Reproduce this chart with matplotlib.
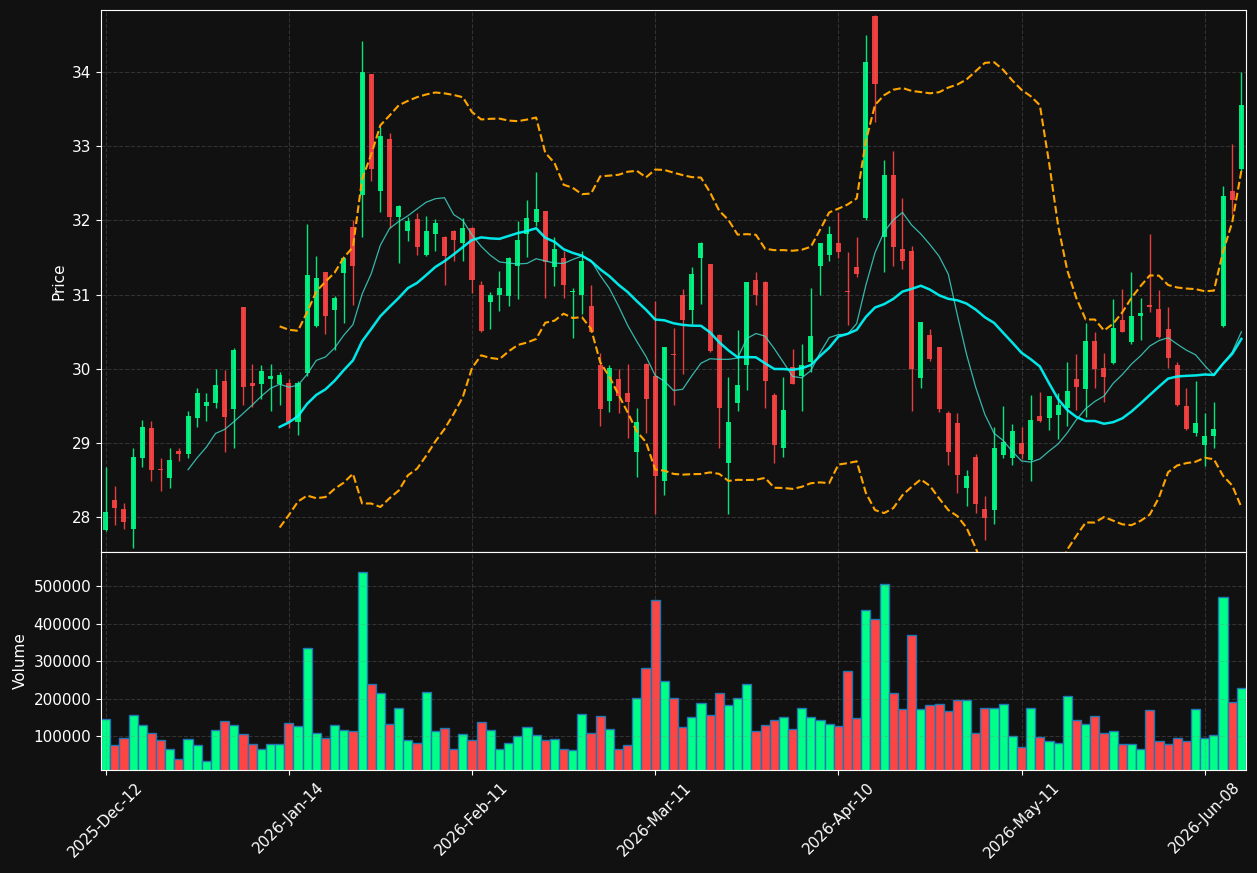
import numpy as np
import pandas as pd
import matplotlib
matplotlib.use('Agg')
import matplotlib.pyplot as plt

plt.rcParams['font.size'] = 11

# OHLC
opens = [27.83, 28.23, 28.11, 27.85, 28.80, 29.20, 28.65, 28.53, 28.90, 28.85,
         29.34, 29.50, 29.54, 29.84, 29.46, 30.83, 29.81, 29.80, 29.87, 29.80,
         29.81, 29.29, 29.95, 30.58, 31.30, 30.79, 31.29, 31.91, 32.34, 33.97,
         32.39, 33.10, 32.05, 31.86, 32.02, 31.53, 31.82, 31.78, 31.86, 31.70,
         31.90, 31.13, 30.90, 30.99, 30.98, 31.39, 31.82, 31.98, 32.12, 31.37,
         31.49, 31.03, 30.99, 30.84, 30.05, 29.57, 29.86, 29.68, 28.88, 30.06,
         29.90, 28.49, 30.20, 31.00, 30.79, 31.49, 31.41, 30.46, 28.73, 29.54,
         30.05, 31.20, 31.17, 29.65, 28.94, 30.02, 29.91, 30.09, 31.39, 31.53,
         31.70, 31.04, 31.37, 32.03, 34.75, 31.78, 32.61, 31.61, 31.58, 29.88,
         30.46, 30.30, 29.40, 29.27, 28.39, 28.81, 28.12, 28.10, 28.84, 28.80,
         29.00, 28.77, 29.36, 29.34, 29.38, 29.47, 29.86, 29.73, 30.38, 30.01,
         30.08, 30.66, 30.36, 30.71, 30.86, 30.80, 30.54, 30.05, 29.50, 29.13,
         28.98, 29.09, 30.58, 32.40, 32.69]
highs = [28.68, 28.42, 28.20, 28.93, 29.31, 29.30, 28.80, 28.94, 28.94, 29.43,
         29.74, 29.68, 30.00, 29.98, 30.28, 30.83, 30.06, 30.05, 30.06, 29.96,
         29.86, 29.83, 31.95, 31.52, 31.31, 30.98, 31.50, 32.00, 34.41, 33.97,
         33.26, 33.18, 32.20, 32.05, 32.10, 32.06, 32.02, 31.79, 31.87, 32.03,
         31.91, 31.18, 31.04, 31.32, 31.50, 31.99, 32.27, 32.65, 32.12, 31.77,
         31.58, 31.09, 31.58, 31.13, 30.21, 30.05, 30.00, 30.06, 29.47, 30.08,
         30.91, 30.30, 30.55, 31.07, 31.37, 31.71, 31.41, 30.47, 29.89, 30.52,
         31.17, 31.30, 31.18, 29.68, 29.89, 30.27, 30.34, 31.09, 31.70, 31.92,
         32.11, 31.57, 31.77, 34.50, 34.76, 32.81, 32.93, 32.30, 31.65, 30.63,
         30.54, 30.30, 29.43, 29.40, 28.64, 28.85, 28.29, 29.22, 29.50, 29.26,
         29.22, 29.65, 29.69, 29.63, 29.67, 30.09, 30.20, 30.62, 30.50, 30.21,
         30.94, 31.07, 31.30, 30.96, 31.82, 31.06, 30.83, 30.09, 29.74, 29.84,
         29.40, 29.56, 32.46, 33.02, 34.00]
lows = [27.82, 27.90, 27.84, 27.59, 28.68, 28.49, 28.36, 28.39, 28.76, 28.80,
        29.22, 29.30, 29.47, 28.88, 28.93, 29.52, 29.48, 29.60, 29.43, 29.51,
        29.20, 29.11, 29.91, 30.57, 30.47, 30.25, 30.62, 30.86, 31.78, 32.53,
        32.11, 31.89, 31.42, 31.72, 31.53, 31.52, 31.58, 31.13, 31.45, 31.45,
        31.02, 30.50, 30.54, 30.78, 30.84, 30.94, 31.50, 31.92, 30.96, 31.12,
        30.96, 30.42, 30.74, 30.49, 29.23, 29.42, 29.40, 29.07, 28.54, 29.13,
        28.04, 28.30, 29.51, 29.93, 30.60, 30.87, 30.23, 28.94, 28.04, 29.43,
        29.72, 30.86, 29.47, 28.73, 28.81, 29.79, 29.43, 29.96, 30.99, 31.45,
        31.49, 30.59, 31.24, 32.01, 33.32, 31.30, 31.38, 31.34, 29.43, 29.74,
        30.10, 29.42, 28.70, 28.33, 28.16, 28.06, 27.70, 27.91, 28.80, 28.70,
        28.78, 28.49, 29.28, 29.18, 29.05, 29.23, 29.44, 29.35, 29.74, 29.56,
        30.07, 30.49, 30.34, 30.39, 30.76, 30.42, 30.01, 29.50, 29.18, 29.10,
        28.69, 28.94, 30.57, 32.08, 32.66]
closes = [28.07, 28.13, 27.94, 28.81, 29.22, 28.64, 28.64, 28.77, 28.85, 29.36,
          29.68, 29.56, 29.78, 29.35, 30.25, 29.75, 29.77, 29.97, 29.90, 29.92,
          29.29, 29.81, 31.26, 31.22, 30.71, 30.96, 31.49, 31.39, 34.00, 32.69,
          33.13, 32.05, 32.19, 31.99, 31.64, 31.86, 31.96, 31.52, 31.73, 31.90,
          31.19, 30.51, 30.99, 31.09, 31.49, 31.74, 32.03, 32.15, 31.44, 31.61,
          31.13, 31.05, 31.45, 30.50, 29.46, 30.01, 29.64, 29.55, 29.28, 29.60,
          28.56, 30.30, 30.19, 30.66, 31.28, 31.70, 30.24, 29.47, 29.28, 29.78,
          31.17, 30.99, 29.83, 28.98, 29.44, 29.80, 30.05, 30.44, 31.69, 31.82,
          31.57, 31.035, 31.27, 34.13, 33.83, 32.61, 31.64, 31.45, 30.00, 30.63,
          30.13, 29.46, 28.88, 28.57, 28.56, 28.18, 27.99, 28.93, 29.02, 29.16,
          28.85, 29.31, 29.30, 29.63, 29.52, 29.70, 29.76, 30.38, 30.00, 29.89,
          30.55, 30.50, 30.71, 30.75, 30.83, 30.43, 30.15, 29.51, 29.19, 29.27,
          29.10, 29.19, 32.32, 32.27, 33.55]
volumes = [145700, 76700, 94600, 157300, 129500, 109000, 89300, 65100, 38200, 91900,
           75800, 32900, 116100, 140300, 129500, 105400, 78500, 65100, 78500, 78500,
           134900, 126900, 336300, 108100, 94600, 129500, 116100, 113400, 537800, 239700,
           215500, 132200, 175200, 89300, 82100, 218200, 113400, 121500, 65100, 105400,
           89300, 137600, 116100, 65100, 81200, 100000, 124200, 102700, 89300, 91900,
           65100, 62400, 159100, 108100, 153700, 118800, 65100, 75800, 202100, 282600,
           462600, 247700, 202100, 124200, 151000, 188600, 156400, 215500, 183300, 202100,
           239700, 113400, 129500, 143000, 151000, 118800, 175200, 151000, 143000, 132200,
           126900, 274600, 148300, 435700, 411500, 505500, 215500, 172500, 371300, 172500,
           183300, 185900, 167100, 196700, 196700, 108100, 175200, 175200, 185900, 100000,
           70500, 175200, 97300, 86600, 81200, 207400, 143000, 132200, 153700, 108100,
           113400, 78500, 78500, 65100, 169800, 86600, 78500, 94600, 86600, 172500,
           94600, 102700, 470600, 191300, 228900]
tick_labels = ['2025-Dec-12', '2026-Jan-14', '2026-Feb-11', '2026-Mar-11',
               '2026-Apr-10', '2026-May-11', '2026-Jun-08']
tick_step = 20

up_color = '#00ff88'
down_color = '#ff4444'
bg = '#111111'

df = pd.DataFrame({'open': opens, 'high': highs, 'low': lows,
                   'close': closes, 'volume': volumes})

# indicadores
df['sma10'] = df['close'].rolling(10).mean()
df['sma20'] = df['close'].rolling(20).mean()
std20 = df['close'].rolling(20).std(ddof=0)
df['bb_up'] = df['sma20'] + 2 * std20
df['bb_lo'] = df['sma20'] - 2 * std20

x = np.arange(len(df))
up = df['close'] >= df['open']
colors = np.where(up, up_color, down_color)

fig = plt.figure(figsize=(12.57, 8.73), dpi=100, facecolor=bg)
gs = fig.add_gridspec(2, 1, height_ratios=[542, 218], hspace=0,
                      left=0.0804, right=0.9912, top=0.9885, bottom=0.118)
ax1 = fig.add_subplot(gs[0])
ax2 = fig.add_subplot(gs[1], sharex=ax1)

# velas
ax1.vlines(x, df['low'], df['high'], color=colors, linewidth=1, alpha=0.9)
body = (df['close'] - df['open']).abs().clip(lower=0.01)
bottom = df[['open', 'close']].min(axis=1)
ax1.bar(x, body, bottom=bottom, width=0.55, color=colors, alpha=0.9)

ax1.plot(x, df['sma10'], color='turquoise', lw=0.9, alpha=0.8)
ax1.plot(x, df['sma20'], color='cyan', lw=1.8, alpha=0.9)
ax1.plot(x, df['bb_up'], color='orange', ls='--', lw=1.5)
ax1.plot(x, df['bb_lo'], color='orange', ls='--', lw=1.5)
ax1.set_ylim(df['low'].min() * 0.998, df['high'].max() * 1.002)
ax1.set_ylabel('Price', color='white')

# volumen
ax2.bar(x, df['volume'], width=1.0, color=colors, edgecolor='#1f77b4', linewidth=1)
ax2.set_ylim(10000, df['volume'].max() * 1.1)
ax2.set_ylabel('Volume', color='white')
ax2.ticklabel_format(axis='y', style='plain')

ax2.set_xlim(-0.5, len(df) - 0.5)
ax2.set_xticks(x[::tick_step])
ax2.set_xticklabels(tick_labels, rotation=45)
plt.setp(ax1.get_xticklabels(), visible=False)

for ax in (ax1, ax2):
    ax.set_facecolor(bg)
    ax.grid(True, color='gray', ls='--', alpha=0.3)
    ax.tick_params(colors='white')
    for s in ax.spines.values():
        s.set_color('white')

fig.savefig('out.png', dpi=100, facecolor=bg)
